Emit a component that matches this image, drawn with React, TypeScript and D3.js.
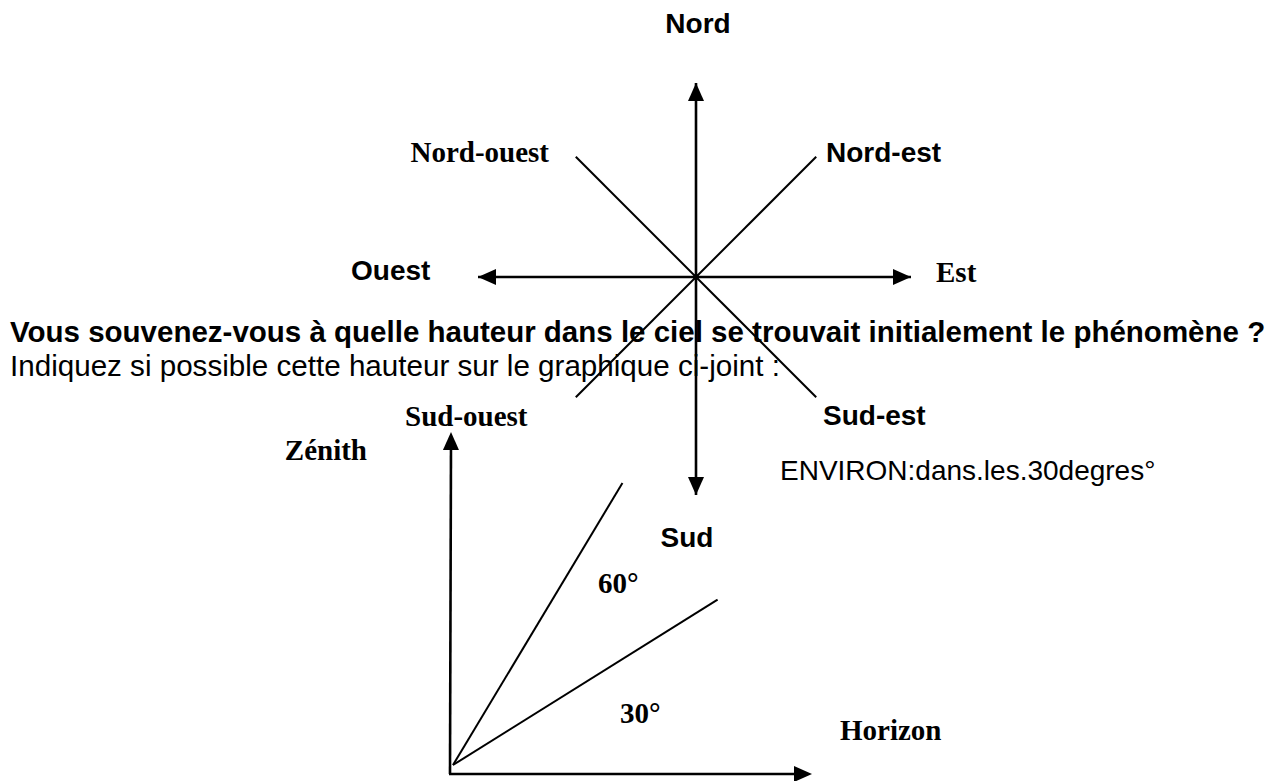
import React from "react";
import * as d3 from "d3";

// compass rose
const directions = ["Nord", "Nord-est", "Est", "Sud-est", "Sud", "Sud-ouest", "Ouest", "Nord-ouest"];
const bearings = [0, 45, 90, 135, 180, 225, 270, 315];
const armLengths = [194, 170, 215, 170, 218, 170, 218, 170];
const hasArrow = [true, false, true, false, true, false, true, false];
const labelSerif = [false, false, true, false, false, true, false, true];

// elevation sketch
const elevationAngles = [59, 32];
const elevationLengths = [329, 312];
const elevationLabels = ["60°", "30°"];
const axisLabels = ["Zénith", "Horizon"];

const question =
  "Vous souvenez-vous à quelle hauteur dans le ciel se trouvait initialement le phénomène ?";
const instruction = "Indiquez si possible cette hauteur sur le graphique ci-joint :";
const answer = "ENVIRON:dans.les.30degres°";

const W = 1275;
const H = 781;
const SANS = "'Liberation Sans', Arial, sans-serif";
const SERIF = "'Liberation Serif', 'Times New Roman', serif";

// label anchors relative to the compass centre
const labelLayout: { dx: number; dy: number; anchor: string }[] = [
  { dx: 2, dy: -244, anchor: "middle" },
  { dx: 130, dy: -115, anchor: "start" },
  { dx: 240, dy: 5, anchor: "start" },
  { dx: 127, dy: 148, anchor: "start" },
  { dx: -9, dy: 270, anchor: "middle" },
  { dx: -291, dy: 149, anchor: "start" },
  { dx: -345, dy: 3, anchor: "start" },
  { dx: -147, dy: -115, anchor: "end" },
];

function arrowHead(tip: [number, number], from: [number, number], len = 18, half = 8) {
  const dx = tip[0] - from[0];
  const dy = tip[1] - from[1];
  const d = Math.hypot(dx, dy);
  const ux = dx / d;
  const uy = dy / d;
  const bx = tip[0] - ux * len;
  const by = tip[1] - uy * len;
  const p = d3.path();
  p.moveTo(tip[0], tip[1]);
  p.lineTo(bx - uy * half, by + ux * half);
  p.lineTo(bx + uy * half, by - ux * half);
  p.closePath();
  return p.toString();
}

export default function App() {
  const cx = 696;
  const cy = 277;
  const rad = d3.scaleLinear().domain([0, 360]).range([0, 2 * Math.PI]);

  const arms = directions.map((name, i) => {
    const [x, y] = d3.pointRadial(rad(bearings[i]), armLengths[i]);
    return { name, x: cx + x, y: cy + y, i };
  });

  // elevation sketch origin
  const ox = 450;
  const oy = 774;
  const zenithLen = 342;
  const horizonLen = 362;
  const zenithTip: [number, number] = [ox + 1, oy - zenithLen];
  const horizonTip: [number, number] = [ox + horizonLen, oy];
  const rayStart: [number, number] = [ox + 3, oy - 9];
  const rays = elevationAngles.map((a, i) => {
    const [x, y] = d3.pointRadial(rad(90 - a), elevationLengths[i]);
    return { x: rayStart[0] + x, y: rayStart[1] + y };
  });

  return (
    <svg
      width={W}
      height={H}
      style={{ position: "absolute", left: 0, top: 0, background: "#fff" }}
    >
      <g stroke="#000" fill="none" strokeLinecap="butt">
        {arms.map((a) => (
          <line
            key={a.name}
            x1={cx}
            y1={cy}
            x2={a.x}
            y2={a.y}
            strokeWidth={hasArrow[a.i] ? 2.6 : 2}
          />
        ))}
      </g>
      <g fill="#000">
        {arms
          .filter((a) => hasArrow[a.i])
          .map((a) => (
            <path key={a.name} d={arrowHead([a.x, a.y], [cx, cy])} />
          ))}
        <circle cx={cx} cy={cy} r={3} />
      </g>
      <g fill="#000" fontWeight="bold" fontSize={28}>
        {arms.map((a) => {
          const l = labelLayout[a.i];
          return (
            <text
              key={a.name}
              x={cx + l.dx}
              y={cy + l.dy}
              textAnchor={l.anchor}
              fontFamily={labelSerif[a.i] ? SERIF : SANS}
              fontSize={labelSerif[a.i] ? 29 : 28}
            >
              {a.name}
            </text>
          );
        })}
      </g>

      <text x={10} y={342} fontFamily={SANS} fontWeight="bold" fontSize={29.5}>
        {question}
      </text>
      <text x={10} y={376} fontFamily={SANS} fontSize={29.6}>
        {instruction}
      </text>
      <text x={780} y={480} fontFamily={SANS} fontSize={28}>
        {answer}
      </text>

      {/* elevation sketch */}
      <g stroke="#000" fill="none">
        <line x1={ox} y1={oy} x2={zenithTip[0]} y2={zenithTip[1] + 10} strokeWidth={2.6} />
        <line x1={ox - 1} y1={oy} x2={horizonTip[0] - 10} y2={horizonTip[1]} strokeWidth={2.6} />
        {rays.map((r, i) => (
          <line key={i} x1={rayStart[0]} y1={rayStart[1]} x2={r.x} y2={r.y} strokeWidth={2} />
        ))}
      </g>
      <g fill="#000">
        <path d={arrowHead(zenithTip, [ox, oy])} />
        <path d={arrowHead(horizonTip, [ox, oy])} />
      </g>
      <g fill="#000" fontFamily={SERIF} fontWeight="bold" fontSize={29}>
        <text x={367} y={460} textAnchor="end">{axisLabels[0]}</text>
        <text x={840} y={740}>{axisLabels[1]}</text>
        <text x={598} y={593}>{elevationLabels[0]}</text>
        <text x={620} y={723}>{elevationLabels[1]}</text>
      </g>
    </svg>
  );
}
